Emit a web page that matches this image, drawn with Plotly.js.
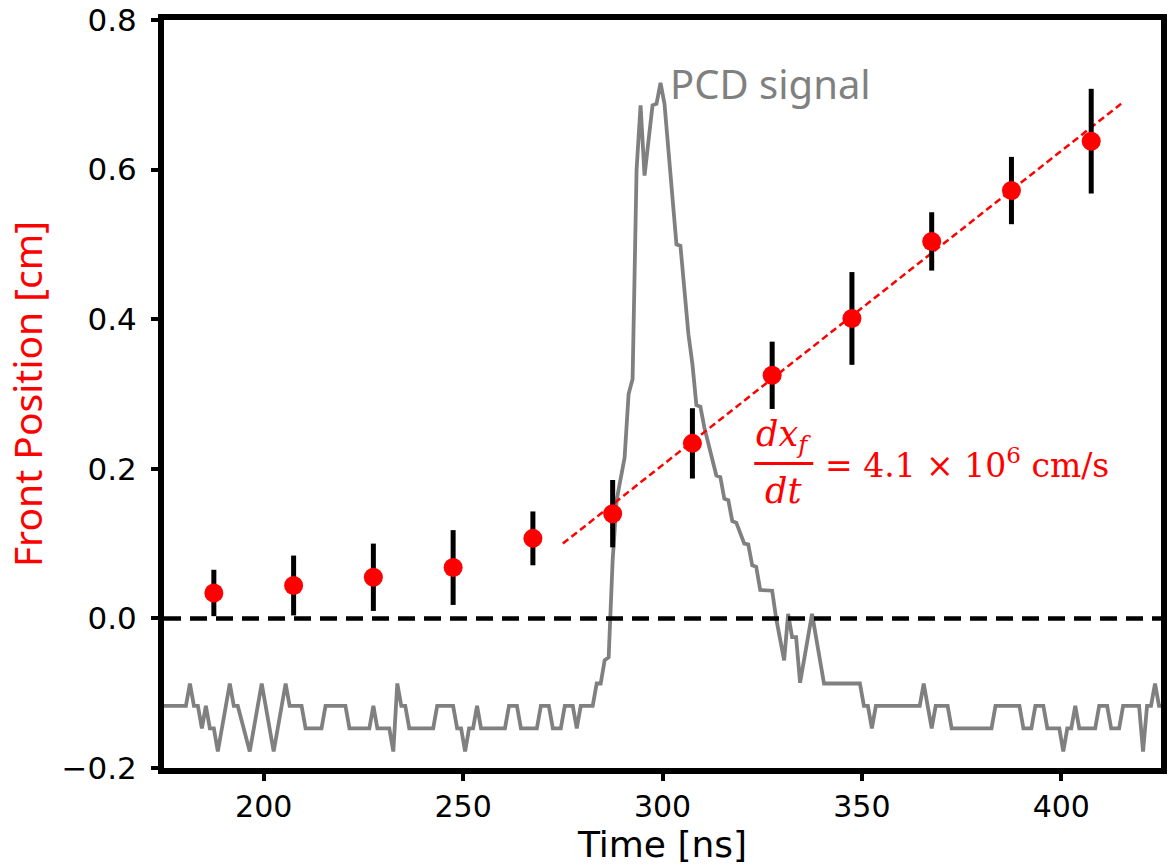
<!DOCTYPE html>
<html><head><meta charset="utf-8">
<script src="https://cdn.plot.ly/plotly-3.0.1.min.js"></script>
<style>body{margin:0;background:#fff}#chart{width:1175px;height:867px}</style>
</head><body><div id="chart"></div>
<script>
// Front position measurements
const frontTime = [187.5, 207.5, 227.5, 247.5, 267.5, 287.5, 307.5, 327.5, 347.5, 367.5, 387.5, 407.5];
const frontPos  = [0.034, 0.044, 0.055, 0.068, 0.107, 0.140, 0.234, 0.325, 0.401, 0.504, 0.572, 0.638];
const frontErr  = [0.031, 0.040, 0.045, 0.050, 0.036, 0.045, 0.047, 0.045, 0.062, 0.039, 0.045, 0.070];
// Linear fit
const fitTime = [275, 415];
const fitPos  = [0.100, 0.688];
// PCD signal trace (arbitrary offset/scale as plotted)
const pcdTime = [175.0, 180.5, 181.5, 182.5, 183.5, 184.5, 185.5, 186.5, 187.5, 188.5, 191.5, 192.5, 193.5, 196.5,
  199.5, 200.5, 201.5, 202.5, 205.5, 206.5, 209.5, 210.5, 214.5, 215.5, 220.5, 221.5, 226.5, 227.5, 228.5,
  231.5, 232.5, 233.5, 234.5, 235.5, 236.5, 242.5, 243.5, 247.5, 248.5, 249.5, 250.5, 251.5, 252.5, 253.5,
  254.5, 260.5, 261.5, 263.5, 264.5, 268.5, 269.5, 271.5, 272.5, 274.5, 275.5, 277.5, 278.5, 279.5, 282.5,
  283.5, 284.5, 285.5, 286.5, 287.5, 288.5, 289.5, 290.5, 291.5, 292.5, 293.5, 294.5, 295.5, 297.5, 298.5,
  299.5, 300.5, 303.5, 304.5, 306.5, 307.5, 308.5, 309.5, 310.5, 313.5, 314.5, 315.5, 316.5, 317.5, 318.5,
  320.5, 321.5, 322.5, 323.5, 324.5, 327.5, 328.5, 330.5, 331.5, 332.5, 333.5, 334.5, 337.5, 340.5, 349.5,
  350.5, 351.5, 352.5, 353.5, 364.5, 365.5, 366.5, 367.5, 368.5, 371.5, 372.5, 382.5, 383.5, 389.5, 390.5,
  392.5, 393.5, 395.5, 396.5, 399.5, 400.5, 401.5, 402.5, 403.5, 404.5, 408.5, 409.5, 411.5, 412.5, 414.5,
  415.5, 419.5, 420.5, 421.5, 422.5, 423.5, 424.5, 425.0];
const pcdSignal = [-0.117, -0.117, -0.087, -0.117, -0.117, -0.147, -0.117, -0.147, -0.147, -0.178, -0.087, -0.117, -0.117, -0.178,
  -0.087, -0.117, -0.147, -0.178, -0.087, -0.117, -0.117, -0.147, -0.147, -0.117, -0.117, -0.147, -0.147, -0.117, -0.147,
  -0.147, -0.178, -0.087, -0.117, -0.117, -0.147, -0.147, -0.117, -0.117, -0.147, -0.147, -0.178, -0.147, -0.147, -0.117,
  -0.147, -0.147, -0.117, -0.117, -0.147, -0.147, -0.117, -0.117, -0.147, -0.147, -0.117, -0.117, -0.147, -0.117, -0.117,
  -0.087, -0.087, -0.056, -0.052, 0.078, 0.158, 0.190, 0.215, 0.300, 0.320, 0.600, 0.686, 0.592, 0.686, 0.688,
  0.716, 0.688, 0.500, 0.498, 0.380, 0.340, 0.285, 0.283, 0.255, 0.191, 0.189, 0.160, 0.158, 0.130, 0.128,
  0.100, 0.099, 0.071, 0.069, 0.038, 0.037, 0.000, -0.056, 0.006, -0.025, -0.025, -0.086, 0.006, -0.087, -0.087,
  -0.117, -0.117, -0.147, -0.117, -0.117, -0.087, -0.117, -0.147, -0.117, -0.117, -0.147, -0.147, -0.117, -0.117, -0.147,
  -0.147, -0.117, -0.117, -0.147, -0.147, -0.178, -0.147, -0.147, -0.117, -0.147, -0.147, -0.117, -0.117, -0.147, -0.147,
  -0.117, -0.117, -0.178, -0.117, -0.117, -0.087, -0.117, -0.117];
const xTicks = [200, 250, 300, 350, 400];
const yTicks = [-0.2, 0.0, 0.2, 0.4, 0.6, 0.8];
const xRange = [175, 425];
const yRange = [-0.2, 0.8];
const zeroLevel = 0;
const pcdLabel = {x: 301.5, y: 0.715, text: 'PCD signal'};
const slopeLabel = {num: '<i>dx</i><sub><i>f</i></sub>', den: '<i>dt</i>', rhs: '= 4.1 × 10<sup>6</sup> cm/s'};

const red = '#ff0000';
const traces = [
  {x: pcdTime, y: pcdSignal, type: 'scatter', mode: 'lines',
   line: {color: '#808080', width: 3.8}, hoverinfo: 'skip'},
  {x: fitTime, y: fitPos, type: 'scatter', mode: 'lines',
   line: {color: red, width: 2.5, dash: '7px,4px'}},
  {x: frontTime, y: frontPos, type: 'scatter', mode: 'markers',
   marker: {color: red, size: 19},
   error_y: {type: 'data', array: frontErr, visible: true, color: '#000', thickness: 5, width: 0}}
];

const layout = {
  width: 1175, height: 867,
  margin: {l: 164, r: 14, t: 20, b: 99},
  paper_bgcolor: '#fff', plot_bgcolor: '#fff',
  showlegend: false,
  xaxis: {range: xRange, tickvals: xTicks, ticktext: xTicks.map(String),
    showgrid: false, zeroline: false, showline: true, linecolor: '#000', linewidth: 6, mirror: true,
    ticks: 'outside', ticklen: 7, tickwidth: 4, tickcolor: '#000',
    tickfont: {family: 'DejaVu Sans', size: 30, color: '#000'},
    title: {text: 'Time [ns]', font: {family: 'DejaVu Sans', size: 36, color: '#000'}, standoff: 4}},
  yaxis: {range: yRange, tickvals: yTicks, tickformat: '.1f',
    showgrid: false, zeroline: false, showline: true, linecolor: '#000', linewidth: 6, mirror: true,
    ticks: 'outside', ticklen: 7, tickwidth: 4, tickcolor: '#000', ticklabelstandoff: 8,
    tickfont: {family: 'DejaVu Sans', size: 31, color: '#000'},
    title: {text: 'Front Position [cm]', font: {family: 'Noto Sans', size: 39, color: red}, standoff: 14}},
  shapes: [
    {type: 'line', xref: 'paper', yref: 'y', x0: 0, x1: 1, y0: zeroLevel, y1: zeroLevel,
     line: {color: '#000', width: 4.5, dash: '17px,9px'}},
    {type: 'line', xref: 'x', yref: 'y', x0: 323.0, x1: 337.8, y0: 0.2072, y1: 0.2072,
     line: {color: red, width: 3}}
  ],
  annotations: [
    {x: pcdLabel.x, y: pcdLabel.y, xref: 'x', yref: 'y', text: pcdLabel.text, showarrow: false,
     xanchor: 'left', yanchor: 'middle', font: {family: 'Noto Sans', size: 40, color: '#808080'}},
    {x: 330.4, y: 0.243, xref: 'x', yref: 'y', text: slopeLabel.num, showarrow: false,
     xanchor: 'center', yanchor: 'middle', font: {family: 'DejaVu Serif', size: 35, color: red}},
    {x: 330.4, y: 0.170, xref: 'x', yref: 'y', text: slopeLabel.den, showarrow: false,
     xanchor: 'center', yanchor: 'middle', font: {family: 'DejaVu Serif', size: 35, color: red}},
    {x: 340.3, y: 0.2072, xref: 'x', yref: 'y', text: slopeLabel.rhs, showarrow: false,
     xanchor: 'left', yanchor: 'middle', font: {family: 'DejaVu Serif', size: 33, color: red}}
  ]
};
Plotly.newPlot('chart', traces, layout, {staticPlot: true, displayModeBar: false});
</script></body></html>
